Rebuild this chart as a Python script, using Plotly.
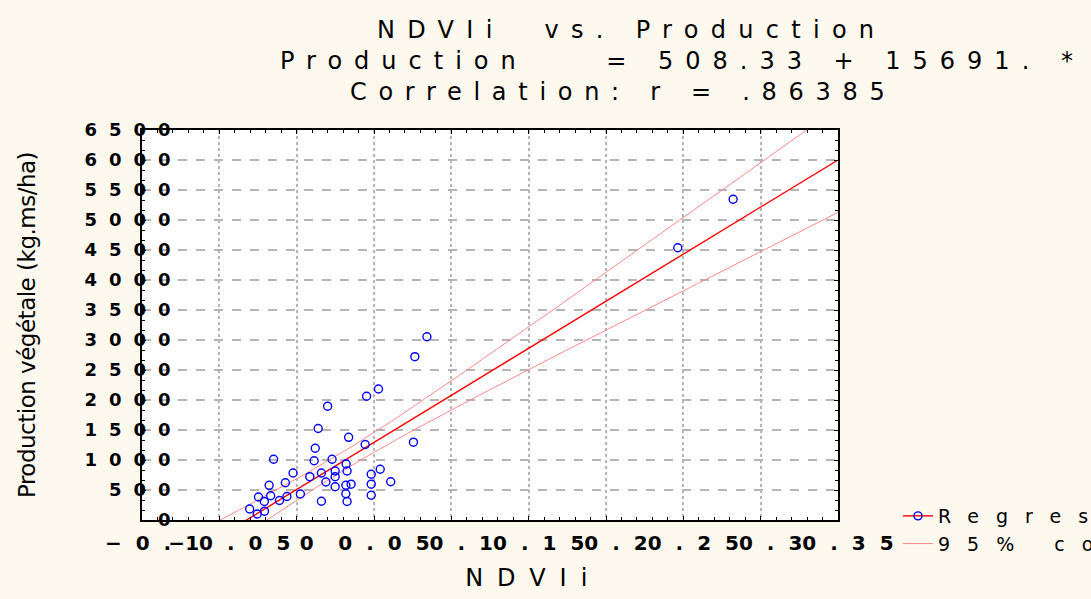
import numpy as np
import plotly.graph_objects as go

# ---------------- data ----------------
ndvi = [0.0139, 0.0336, -0.0149, 0.0120, 0.0113, 0.0229, -0.0023, 0.0160, 0.0249,
        0.0320, 0.0326, 0.0085, 0.0249, -0.0073, 0.0189, -0.0178, 0.0249, 0.0318,
        0.0352, 0.0024, -0.0168, -0.0063, -0.0247, -0.0111, -0.0209, 0.0318, 0.0160,
        0.0326, -0.0304, -0.0255, -0.0208, 0.0842, 0.0764, 0.0529, 0.0452, 0.0200,
        0.0755, 0.0443, 0.0540, 0.0482, 0.0482, 0.0608, 0.0482, 0.2464, 0.2822]
production = [1525, 1378, 1012, 1195, 988, 1012, 783, 783, 817,
              933, 817, 722, 722, 620, 633, 578, 555, 580,
              597, 433, 405, 392, 383, 325, 308, 437, 313,
              308, 183, 100, 147, 3055, 2722, 2183, 2062, 1897,
              1297, 1258, 845, 763, 597, 638, 413, 4538, 5345]

# regression reported in the chart title
INTERCEPT = 508.33
SLOPE = 15691.0
T_975 = 2.017  # Student t, 0.975, n-2 dof

x_tick_vals = [-0.10, -0.05, 0.0, 0.05, 0.10, 0.15, 0.20, 0.25, 0.30, 0.35]
x_tick_text = ["\u22120.1", "\u22120.05", "0", "0.05", "0.1", "0.15", "0.2", "0.25", "0.3", "0.35"]
y_tick_vals = [0, 500, 1000, 1500, 2000, 2500, 3000, 3500, 4000, 4500, 5000, 5500, 6000, 6500]
y_tick_text = ["0", "500", "1000", "1500", "2000", "2500", "3000", "3500", "4000",
               "4500", "5000", "5500", "6000", "6500"]

title_1 = "NDVIi  vs. Production"
title_2 = "Production    = 508.33 + 15691. * NDVIi"
title_3 = "Correlation: r = .86385"
x_title = "NDVIi"
y_title = "Production végétale (kg.ms/ha)"
legend_names = ["Regression", "95% confid."]

# ---------------- regression line and 95% band ----------------
xa = np.array(ndvi)
ya = np.array(production)
n = len(xa)
resid = ya - (INTERCEPT + SLOPE * xa)
s_err = np.sqrt(np.sum(resid ** 2) / (n - 2))
xbar = xa.mean()
sxx = np.sum((xa - xbar) ** 2)
xs = np.linspace(x_tick_vals[0], x_tick_vals[-1], 300)
fit = INTERCEPT + SLOPE * xs
half = T_975 * s_err * np.sqrt(1.0 / n + (xs - xbar) ** 2 / sxx)
upper = fit + half
lower = fit - half


def spaced(text, ls, extra=""):
    return f'<span style="letter-spacing:{ls}px;{extra}">{text}</span>'


FONT = "DejaVu Sans"
BG = "#FDF9EE"
PW, PH = 1091, 599
L, R, T, B = 142, 253, 130, 79
pw = PW - L - R
ph = PH - T - B


def px_to_paper_x(px):
    return (px - L) / pw


def px_to_paper_y(py):
    return (PH - B - py) / ph


fig = go.Figure()
fig.add_trace(go.Scatter(x=xs, y=upper, mode="lines", line=dict(color="#FF8A8A", width=1),
                         name=spaced(legend_names[1], 17), legendrank=2, hoverinfo="skip"))
fig.add_trace(go.Scatter(x=xs, y=lower, mode="lines", line=dict(color="#FF8A8A", width=1),
                         showlegend=False, hoverinfo="skip"))
fig.add_trace(go.Scatter(x=xs, y=fit, mode="lines", line=dict(color="#FF0000", width=1.4),
                         showlegend=False, hoverinfo="skip"))
fig.add_trace(go.Scatter(x=ndvi, y=production, mode="markers",
                         marker=dict(symbol="circle-open", color="#0000FF", size=8,
                                     line=dict(width=1.4, color="#0000FF")),
                         showlegend=False))
fig.add_trace(go.Scatter(x=[None], y=[None], mode="lines+markers",
                         line=dict(color="#FF0000", width=1.4),
                         marker=dict(symbol="circle-open", color="#0000FF", size=8,
                                     line=dict(width=1.4, color="#0000FF")),
                         name=spaced(legend_names[0], 17), legendrank=1))

fig.update_layout(
    width=PW, height=PH,
    margin=dict(l=L, r=R, t=T, b=B, autoexpand=False),
    paper_bgcolor=BG, plot_bgcolor="#FFFFFF",
    font=dict(family=FONT, color="black"),
    title=dict(text=spaced(title_1, 12.3), font=dict(family=FONT, size=24, color="black"),
               xref="container", yref="container", x=377 / PW, xanchor="left",
               y=1 - 30 / PH, yanchor="middle"),
    showlegend=True,
    legend=dict(x=px_to_paper_x(898), y=px_to_paper_y(497), xanchor="left", yanchor="top",
                bgcolor="rgba(0,0,0,0)", font=dict(family=FONT, size=19, color="black"),
                itemwidth=30, tracegroupgap=0, traceorder="normal"),
    annotations=[
        dict(text=spaced(title_2, 12), xref="paper", yref="paper",
             x=px_to_paper_x(278), y=px_to_paper_y(61), xanchor="left", yanchor="middle",
             showarrow=False, font=dict(family=FONT, size=24, color="black")),
        dict(text=spaced(title_3, 11.7), xref="paper", yref="paper",
             x=px_to_paper_x(348), y=px_to_paper_y(92), xanchor="left", yanchor="middle",
             showarrow=False, font=dict(family=FONT, size=24, color="black")),
    ],
)

fig.update_xaxes(
    range=[x_tick_vals[0], x_tick_vals[-1]],
    tickmode="array", tickvals=x_tick_vals, ticktext=[spaced(t, 14) for t in x_tick_text],
    tickfont=dict(family=FONT, size=20, color="black", weight="bold"),
    tickangle=0, ticklabelshift=17, ticklabelstandoff=4,
    showgrid=True, gridcolor="#B5B5B5", griddash="dot", gridwidth=2,
    zeroline=False, showline=True, linecolor="black", linewidth=1.5, mirror="allticks",
    ticks="inside", ticklen=4, tickcolor="black", tickwidth=1,
    minor=dict(tickmode="linear", tick0=-0.10, dtick=0.01, ticks="inside", ticklen=3,
               tickcolor="black", showgrid=False),
    title=dict(text=spaced("\u00a0\u00a0\u00a0\u00a0" + x_title, 14),
               font=dict(family=FONT, size=24, color="black"), standoff=15),
)
fig.update_yaxes(
    range=[y_tick_vals[0], y_tick_vals[-1]],
    tickmode="array", tickvals=y_tick_vals, ticktext=[spaced(t, 12) for t in y_tick_text],
    tickfont=dict(family=FONT, size=18, color="black", weight="bold"),
    ticklabelstandoff=-46,
    showgrid=True, gridcolor="#B5B5B5", griddash="dash", gridwidth=1.5,
    zeroline=False, showline=True, linecolor="black", linewidth=1.5, mirror="allticks",
    ticks="inside", ticklen=4, tickcolor="black", tickwidth=1,
    minor=dict(tickmode="linear", tick0=0, dtick=500 / 3, ticks="inside", ticklen=3,
               tickcolor="black", showgrid=False),
    title=dict(text=spaced(y_title, -0.5),
               font=dict(family=FONT, size=23, color="black"),
               standoff=42),
)

fig.write_html(
    "out.html",
    config={"displayModeBar": False},
    post_script="document.body.style.margin='0px';document.body.style.background='" + BG + "';",
)
